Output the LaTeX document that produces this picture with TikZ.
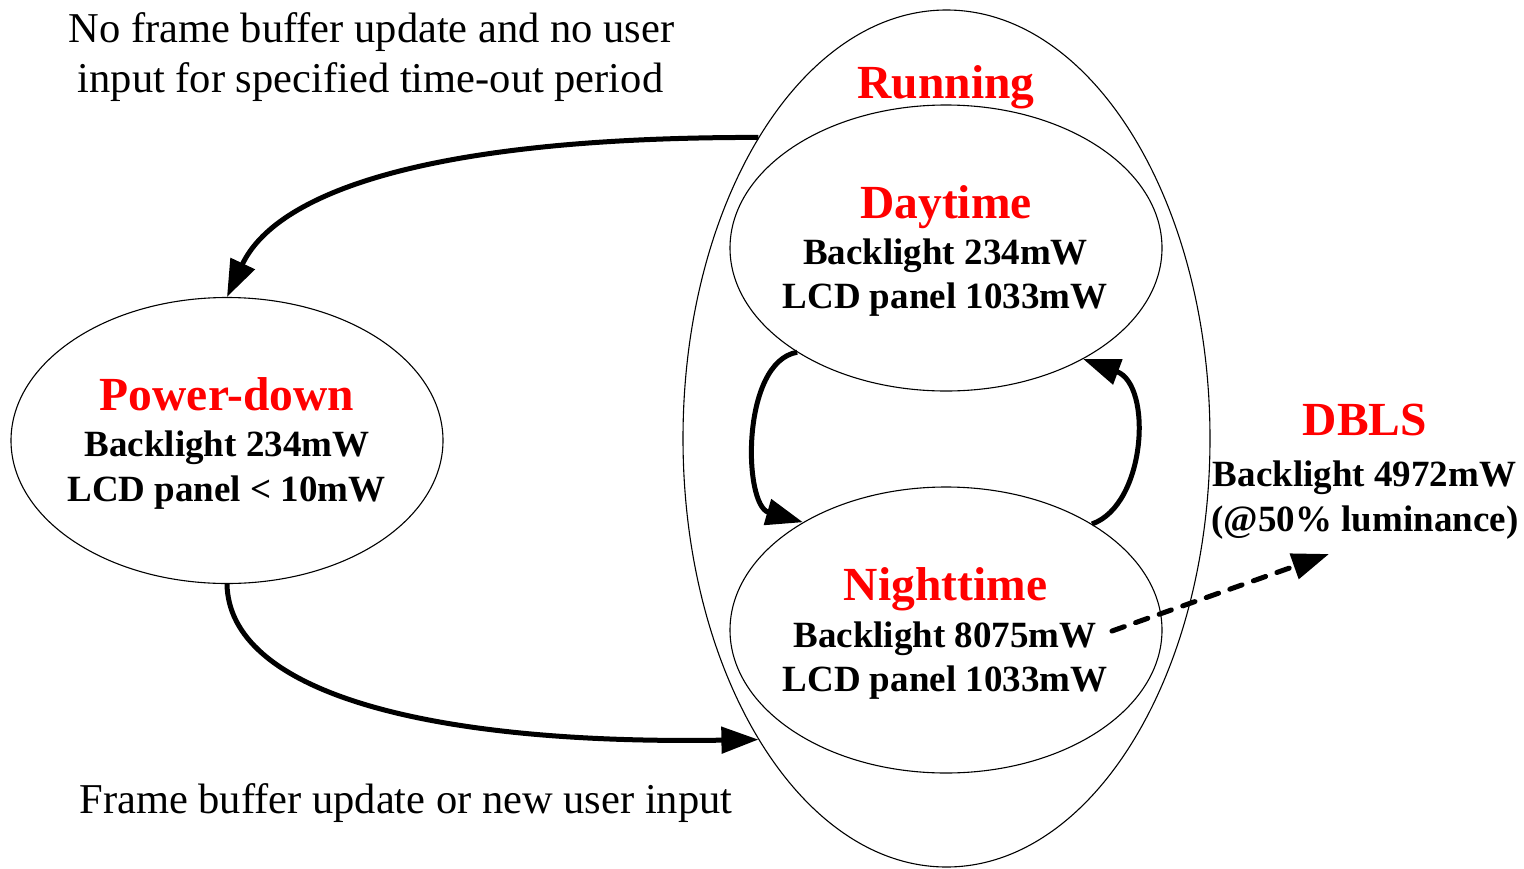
\documentclass[tikz,border=0pt]{standalone}
\usepackage{fontspec}
\setmainfont{Liberation Serif}
\usetikzlibrary{shapes.geometric,arrows.meta}
\definecolor{statered}{RGB}{255,0,0}
\tikzset{
  state/.style={ellipse, draw=black, line width=1.1pt, inner sep=0pt},
  statetitle/.style={text=statered, font=\fontsize{47.5}{57}\selectfont\bfseries, anchor=base, inner sep=0pt},
  detail/.style={font=\fontsize{37}{44}\selectfont\bfseries, anchor=base, inner sep=0pt},
  caption/.style={font=\fontsize{42.5}{50}\selectfont, anchor=base, inner sep=0pt},
  trans/.style={line width=5pt, -{Triangle[length=37pt,width=26pt]}},
  dimming/.style={trans, dash pattern=on 13pt off 12pt, line cap=round}
}
\begin{document}
\begin{tikzpicture}[x=1pt, y=-1pt]
\useasboundingbox (0,0) rectangle (1524,868);
\fill[white] (0,0) rectangle (1524,868);

% state outlines
\node[state, minimum width=527pt, minimum height=857pt] (run) at (946.5,438.5) {};
\node[state, minimum width=432pt, minimum height=286pt] (day) at (946,248) {};
\node[state, minimum width=432pt, minimum height=286pt] (night) at (946,630) {};
\node[state, minimum width=432pt, minimum height=286pt] (pd) at (227,440.5) {};

% running group
\node[statetitle] (runT) at (946,98) {Running};
\node[statetitle] (dayT) at (946,218) {Daytime};
\node[detail] (dayB) at (945.5,264) {Backlight 234mW};
\node[detail] (dayL) at (945,308.5) {LCD panel 1033mW};
\node[statetitle] (nightT) at (945.5,600) {Nighttime};
\node[detail] (nightB) at (945,647) {Backlight 8075mW};
\node[detail] (nightL) at (945,691.5) {LCD panel 1033mW};

% power-down state
\node[statetitle] (pdT) at (227,410.5) {Power-down};
\node[detail] (pdB) at (227,456.5) {Backlight 234mW};
\node[detail] (pdL) at (226.5,501.5) {LCD panel < 10mW};

% dimming alternative
\node[statetitle] (dbT) at (1365,435) {DBLS};
\node[detail] (dbB) at (1364.5,486.5) {Backlight 4972mW};
\node[detail] (dbL) at (1365,531) {(@50\% luminance)};

% transition conditions
\node[caption] (idle1) at (371.5,42) {No frame buffer update and no user};
\node[caption] (idle2) at (370.5,92) {input for specified time-out period};
\node[caption] (wake) at (406,813) {Frame buffer update or new user input};

% transitions
\draw[trans] (run.122.7) .. controls (420,137) and (275,195) .. (pd.north);
\draw[trans] (pd.south) .. controls (229,690) and (420,745) .. (run.238.3);
\draw[trans] (day.215.5) .. controls (741,362) and (743,505) .. (night.143.5);
\draw[trans] (night.36.6) .. controls (1146,505) and (1153,385) .. (day.-39.7);

\coordinate (dimfrom) at (1112,631);
\coordinate (dimto) at (1329,554);
\draw[dimming] (dimfrom) -- (dimto);
\end{tikzpicture}
\end{document}
